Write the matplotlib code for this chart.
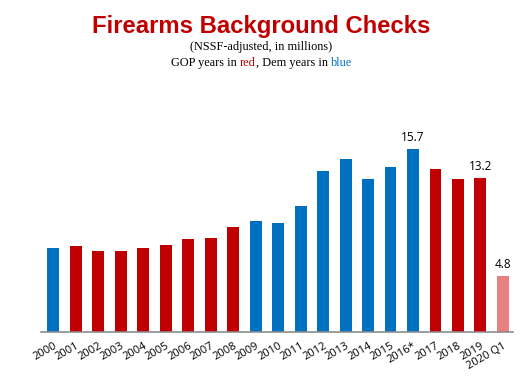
import matplotlib
matplotlib.use("Agg")
import matplotlib.pyplot as plt

categories = ["2000", "2001", "2002", "2003", "2004", "2005", "2006", "2007", "2008",
              "2009", "2010", "2011", "2012", "2013", "2014", "2015", "2016*", "2017",
              "2018", "2019", "2020 Q1"]
values = [7.2, 7.4, 6.95, 6.95, 7.2, 7.45, 7.95, 8.05, 9.0,
          9.5, 9.4, 10.8, 13.8, 14.85, 13.1, 14.2, 15.7, 14.0,
          13.1, 13.2, 4.8]
party = ["D", "R", "R", "R", "R", "R", "R", "R", "R",
         "D", "D", "D", "D", "D", "D", "D", "D", "R",
         "R", "R", "P"]
labeled = {"2016*": "15.7", "2019": "13.2", "2020 Q1": "4.8"}

color_map = {"D": "#0070C0", "R": "#C00000", "P": "#E88080"}
colors = [color_map[p] for p in party]

fig = plt.figure(figsize=(5.23, 3.78), dpi=100)
ax = fig.add_axes([41/523, 46/378, (513-41)/523, 198/378])

x = list(range(len(categories)))
ax.bar(x, values, width=0.53, color=colors)
ax.set_xlim(-0.55, len(categories) - 0.55)
ax.set_ylim(0, 17)

for xi, c, v in zip(x, categories, values):
    if c in labeled:
        ax.text(xi, v + 0.45, labeled[c], ha="center", va="bottom",
                fontsize=8.5, family="Open Sans", color="black")

for s in ["top", "right", "left"]:
    ax.spines[s].set_visible(False)
ax.spines["bottom"].set_color("#8C8C8C")
ax.spines["bottom"].set_linewidth(1.2)
ax.set_yticks([])
ax.set_xticks(x)
ax.set_xticklabels(categories, rotation=30, ha="right", rotation_mode="anchor",
                   fontsize=8, family="Open Sans")
ax.tick_params(axis="x", length=0, pad=6)

fig.text(0.5, 1 - 27/378, "Firearms Background Checks", ha="center", va="center",
         fontsize=17.2, fontweight="bold", family="Liberation Sans", color="#C00000")
fig.text(0.5, 1 - 47/378, "(NSSF-adjusted, in millions)", ha="center", va="center",
         fontsize=8.8, family="Liberation Serif", color="black")

parts = [("GOP years in ", "black"), ("red", "#C00000"), (", Dem years in ", "black"),
         ("blue", "#0070C0")]
y2 = 1 - 63/378
texts = [fig.text(0, y2, p, ha="left", va="center", fontsize=8.8,
                  family="Liberation Serif", color=c) for p, c in parts]
fig.canvas.draw()
r = fig.canvas.get_renderer()
widths = [t.get_window_extent(r).width for t in texts]
total = sum(widths)
W = fig.bbox.width
xpos = (W - total) / 2
for t, w in zip(texts, widths):
    t.set_x(xpos / W)
    xpos += w

fig.savefig("out.png", dpi=100)
